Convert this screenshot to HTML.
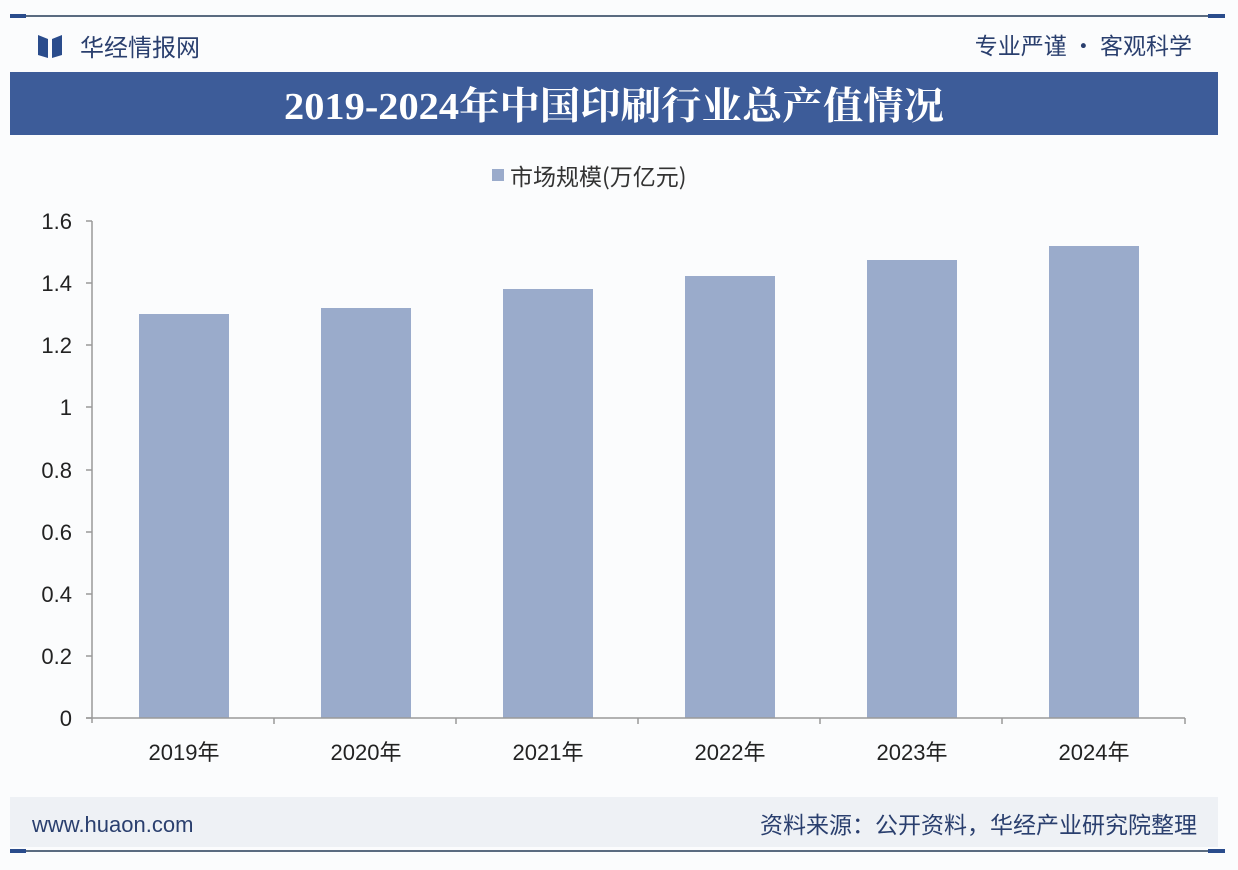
<!DOCTYPE html>
<html><head><meta charset="utf-8"><style>
body{margin:0;width:1238px;height:870px;background:#fff;overflow:hidden;}
svg{display:block}
</style></head><body>
<svg width="1238" height="870" xmlns="http://www.w3.org/2000/svg" font-family="'Liberation Sans','Noto Sans CJK SC',sans-serif">
<rect width="1238" height="870" fill="#fbfcfd"/>
<line x1="10" y1="16" x2="1225" y2="16" stroke="#5a6b80" stroke-width="2"/>
<rect x="10" y="14" width="16" height="4" fill="#2a4c8c"/>
<rect x="1208" y="14" width="17" height="4" fill="#2a4c8c"/>
<path d="M38 35 L48 39 L48 58 L38 55Z M52 39 L62 35 L62 55 L52 58Z" fill="#2a4c8c"/>
<text x="80" y="56" font-size="24" fill="#2a3f6e" font-family="'Noto Sans CJK SC',sans-serif">华经情报网</text>
<text x="1192" y="54" font-size="23" fill="#2a3f6e" text-anchor="end" font-family="'Noto Sans CJK SC',sans-serif">专业严谨 • 客观科学</text>
<rect x="10" y="72" width="1208" height="63" fill="#3d5c99"/>
<text x="614" y="119" font-size="38" font-weight="bold" fill="#fff" text-anchor="middle" textLength="660" lengthAdjust="spacingAndGlyphs" font-family="'Liberation Serif','Noto Serif CJK SC',serif">2019-2024年中国印刷行业总产值情况</text>
<rect x="492" y="169" width="12" height="12" fill="#9aabcb"/>
<text x="510" y="185" font-size="23" fill="#333" font-family="'Noto Sans CJK SC',sans-serif">市场规模(万亿元)</text>
<g font-size="22" fill="#222" text-anchor="end">
<text x="72" y="726">0</text><text x="72" y="664">0.2</text><text x="72" y="602">0.4</text>
<text x="72" y="540">0.6</text><text x="72" y="478">0.8</text><text x="72" y="415">1</text>
<text x="72" y="353">1.2</text><text x="72" y="291">1.4</text><text x="72" y="229">1.6</text>
</g>
<line x1="92" y1="221" x2="92" y2="723" stroke="#999" stroke-width="1.5"/>
<g stroke="#999" stroke-width="1.5">
<line x1="86" y1="718" x2="92" y2="718"/><line x1="86" y1="656" x2="92" y2="656"/><line x1="86" y1="594" x2="92" y2="594"/><line x1="86" y1="532" x2="92" y2="532"/><line x1="86" y1="470" x2="92" y2="470"/><line x1="86" y1="407" x2="92" y2="407"/><line x1="86" y1="345" x2="92" y2="345"/><line x1="86" y1="283" x2="92" y2="283"/><line x1="86" y1="221" x2="92" y2="221"/>
</g>
<g fill="#9aabcb">
<rect x="139" y="314" width="90" height="404"/>
<rect x="321" y="308" width="90" height="410"/>
<rect x="503" y="289" width="90" height="429"/>
<rect x="685" y="276" width="90" height="442"/>
<rect x="867" y="260" width="90" height="458"/>
<rect x="1049" y="246" width="90" height="472"/>
</g>
<line x1="86" y1="718" x2="1185" y2="718" stroke="#999" stroke-width="1.5"/>
<g stroke="#999" stroke-width="1.5">
<line x1="274" y1="718" x2="274" y2="724"/><line x1="456" y1="718" x2="456" y2="724"/><line x1="638" y1="718" x2="638" y2="724"/><line x1="820" y1="718" x2="820" y2="724"/><line x1="1002" y1="718" x2="1002" y2="724"/><line x1="1185" y1="718" x2="1185" y2="724"/>
</g>
<g font-size="22" fill="#222" text-anchor="middle">
<text x="184" y="760">2019年</text><text x="366" y="760">2020年</text><text x="548" y="760">2021年</text>
<text x="730" y="760">2022年</text><text x="912" y="760">2023年</text><text x="1094" y="760">2024年</text>
</g>
<rect x="10" y="797" width="1208" height="50" fill="#eef1f5"/>
<text x="32" y="832" font-size="22" fill="#2a3f6e">www.huaon.com</text>
<text x="1197" y="833" font-size="23" fill="#2a3f6e" text-anchor="end" font-family="'Noto Sans CJK SC',sans-serif">资料来源：公开资料，华经产业研究院整理</text>
<line x1="10" y1="851" x2="1225" y2="851" stroke="#5a6b80" stroke-width="2"/>
<rect x="10" y="849" width="16" height="4" fill="#2a4c8c"/>
<rect x="1208" y="849" width="17" height="4" fill="#2a4c8c"/>
</svg>
</body></html>
